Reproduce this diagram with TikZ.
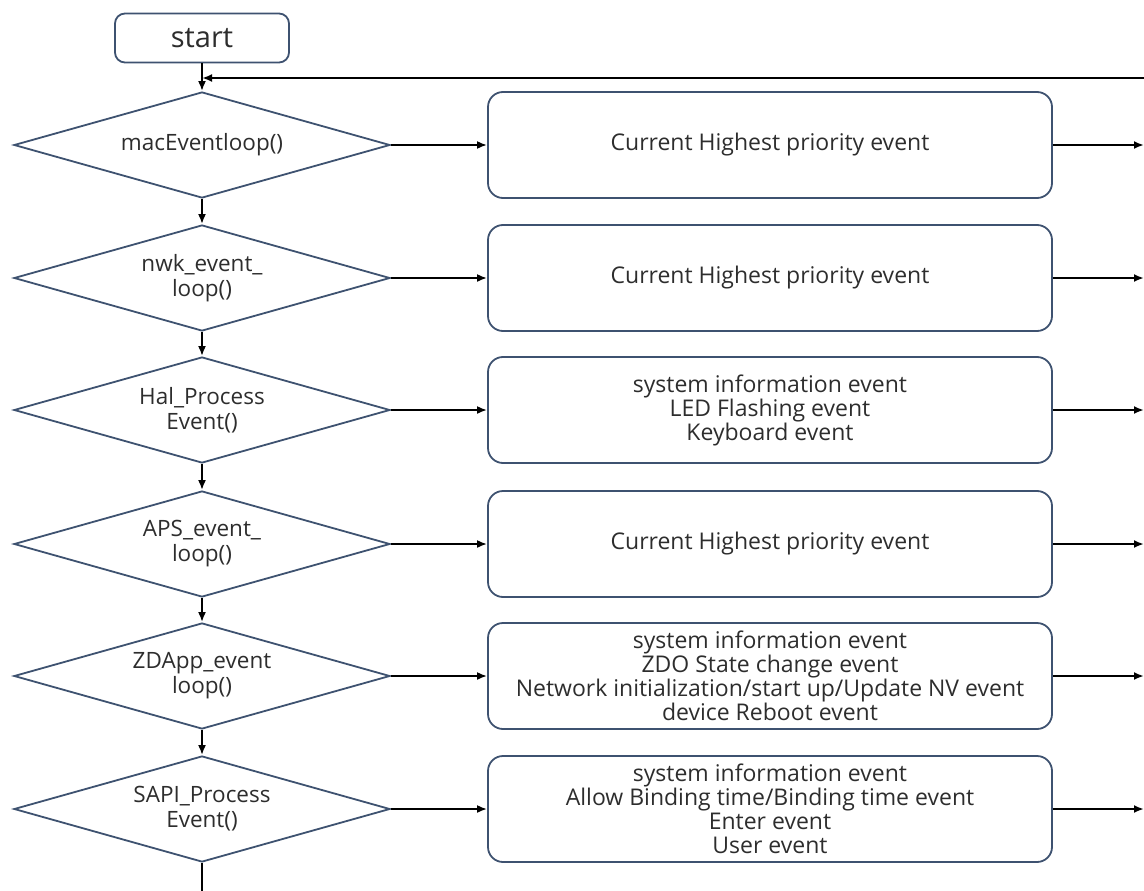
\documentclass[tikz,border=0pt]{standalone}
\usepackage{fontspec}
\setmainfont{Open Sans}
\usetikzlibrary{shapes.geometric,arrows.meta}
\definecolor{edgecol}{RGB}{62,82,112}
\definecolor{txtcol}{RGB}{45,45,45}
\tikzset{
  dia/.style={diamond,draw=edgecol,line width=1.8pt,minimum width=376pt,minimum height=106pt,inner sep=0pt},
  dtext/.style={text=txtcol,font=\fontsize{22.5}{25}\selectfont,align=center,inner sep=0pt},
  evbox/.style={rectangle,rounded corners=15pt,draw=edgecol,line width=1.8pt,minimum width=564pt,minimum height=106pt,text=txtcol,font=\fontsize{23}{24}\selectfont,align=center,inner sep=0pt},
  startbox/.style={rectangle,rounded corners=10pt,draw=edgecol,line width=1.8pt,minimum width=174pt,minimum height=49pt,text=txtcol,font=\fontsize{29}{32}\selectfont},
  arr/.style={draw=black,line width=2pt,-{Latex[length=10pt,width=8pt]}},
  ln/.style={draw=black,line width=2pt}
}
\begin{document}
\begin{tikzpicture}[x=1pt,y=-1pt]
\useasboundingbox (0,0) rectangle (1144,891);
\node[startbox] (start) at (202,38) {start};
% diamonds
\node[dia] (d1) at (202,145) {};
\node[dia] (d2) at (202,278) {};
\node[dia] (d3) at (202,410) {};
\node[dia] (d4) at (202,544) {};
\node[dia] (d5) at (202,676) {};
\node[dia] (d6) at (202,809) {};
\node[dtext] (t1) at (d1) {macEventloop()};
\node[dtext] (t2) at (d2) {nwk\_event\_\\loop()};
\node[dtext] (t3) at (d3) {Hal\_Process\\Event()};
\node[dtext] (t4) at (d4) {APS\_event\_\\loop()};
\node[dtext] (t5) at (d5) {ZDApp\_event\\loop()};
\node[dtext] (t6) at (d6) {SAPI\_Process\\Event()};
% boxes
\node[evbox] (b1) at (770,145) {Current Highest priority event};
\node[evbox] (b2) at (770,278) {Current Highest priority event};
\node[evbox] (b3) at (770,410) {system information event\\LED Flashing event\\Keyboard event};
\node[evbox] (b4) at (770,544) {Current Highest priority event};
\node[evbox] (b5) at (770,676) {system information event\\ZDO State change event\\Network initialization/start up/Update NV event\\device Reboot event};
\node[evbox] (b6) at (770,809) {system information event\\Allow Binding time/Binding time event\\Enter event\\User event};
% coordinates
\coordinate (fbR) at (1144,78);
\coordinate (fbL) at (202,78);
\coordinate (e1) at (1144,145);
\coordinate (e2) at (1144,278);
\coordinate (e3) at (1144,410);
\coordinate (e4) at (1144,544);
\coordinate (e5) at (1144,676);
\coordinate (e6) at (1144,809);
\coordinate (bot) at (202,891);
% connectors
\draw[arr] (start.south) -- (d1.north);
\draw[arr] (fbR) -- (fbL);
\draw[arr] (d1.south) -- (d2.north);
\draw[arr] (d2.south) -- (d3.north);
\draw[arr] (d3.south) -- (d4.north);
\draw[arr] (d4.south) -- (d5.north);
\draw[arr] (d5.south) -- (d6.north);
\draw[ln] (d6.south) -- (bot);
\foreach \i in {1,...,6}{
  \draw[arr] (d\i.east) -- (b\i.west);
  \draw[arr] (b\i.east) -- (e\i);
}
\end{tikzpicture}
\end{document}
